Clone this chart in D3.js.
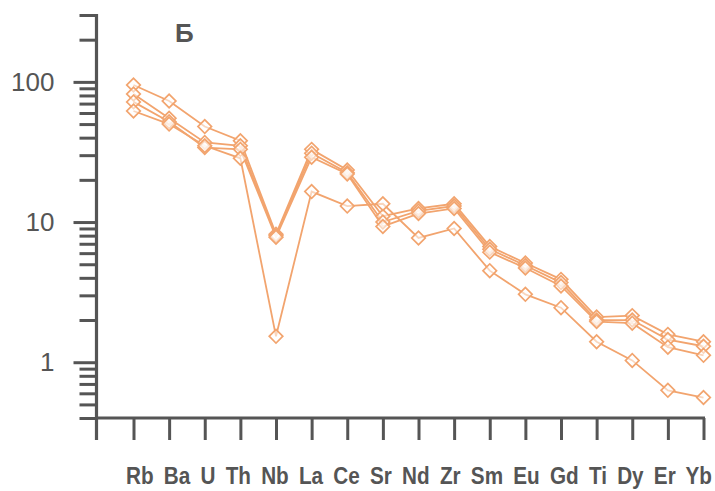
<!DOCTYPE html>
<html>
<head>
<meta charset="utf-8">
<script src="https://cdn.jsdelivr.net/npm/d3@7"></script>
<style>
  body { margin: 0; background: #fff; }
</style>
</head>
<body>
<div id="chart"></div>
<script>
// Data
//-----------
var elements = ["Rb", "Ba", "U", "Th", "Nb", "La", "Ce", "Sr", "Nd", "Zr", "Sm", "Eu", "Gd", "Ti", "Dy", "Er", "Yb"];

var sample1 = [95, 73, 48, 38, 8.2, 33, 23.5, 11, 12.5, 13.5, 6.7, 5.1, 3.9, 2.1, 2.15, 1.58, 1.4];
var sample2 = [82, 55, 37, 35, 8.0, 31, 22.5, 10, 12, 13, 6.4, 4.9, 3.7, 2.0, 2.0, 1.45, 1.3];
var sample3 = [72, 52, 34, 33, 7.8, 29, 22, 9.3, 11.5, 12.5, 6.1, 4.7, 3.5, 1.95, 1.9, 1.28, 1.12];
var sample4 = [62, 50, 35, 28.5, 1.53, 16.5, 13, 13.5, 7.7, 9, 4.5, 3.05, 2.45, 1.4, 1.03, 0.63, 0.56];

var majorTicks = [1, 10, 100];
var minorTicks = [0.4, 0.5, 0.6, 0.7, 0.8, 0.9, 2, 3, 4, 5, 6, 7, 8, 9, 20, 30, 40, 50, 60, 70, 80, 90, 200, 300];

var panelLabel = "Б";

// Attributes
//-----------
var w = 715;
var h = 491;
var axisColor = "#555";
var lineColor = "#F2A46E";

var svg = d3.select("#chart")
  .append("svg")
  .attr("width", w)
  .attr("height", h);

svg.append("rect").attr("width", w).attr("height", h).attr("fill", "#fff");

// Scales
//-----------
var xScale = d3.scalePoint().domain(elements).range([133.5, 703.5]);
var yScale = d3.scaleLog().domain([0.4, 300]).range([418, 15]);
var axisX = 96.5;

// Axes
//-----------
var minorAxis = svg.append("g")
  .attr("transform", "translate(" + axisX + ",0)")
  .call(d3.axisLeft(yScale).tickValues(minorTicks).tickSize(17).tickFormat(""));

var majorAxis = svg.append("g")
  .attr("transform", "translate(" + axisX + ",0)")
  .call(d3.axisLeft(yScale).tickValues(majorTicks).tickSize(23).tickPadding(19).tickFormat(d3.format("d")));

var bottomAxis = svg.append("g")
  .attr("transform", "translate(0," + yScale(0.4) + ")")
  .call(d3.axisBottom(xScale).tickSize(22).tickFormat(""));

svg.selectAll(".domain").remove();
svg.selectAll(".tick line")
  .attr("stroke", axisColor)
  .attr("stroke-width", 3);

majorAxis.selectAll("text")
  .attr("font-family", "Liberation Sans, Arial, sans-serif")
  .attr("font-size", "26px")
  .attr("fill", axisColor);

// y axis line, reaching down to the tick length of the x axis
svg.append("line")
  .attr("x1", axisX).attr("x2", axisX)
  .attr("y1", yScale(300) - 1)
  .attr("y2", yScale(0.4) + 22)
  .attr("stroke", axisColor)
  .attr("stroke-width", 3.2);

// x axis line
svg.append("line")
  .attr("x1", axisX)
  .attr("x2", xScale(elements[elements.length - 1]) + 1.5)
  .attr("y1", yScale(0.4)).attr("y2", yScale(0.4))
  .attr("stroke", axisColor)
  .attr("stroke-width", 3.2);

// element names, written as one line under the axis
var sx = 0.9;
var labelG = svg.append("g").attr("transform", "translate(126,484) scale(" + sx + ",1)");
var labelText = labelG.append("text")
  .text(elements.join(" "))
  .attr("font-family", "Liberation Sans, Arial, sans-serif")
  .attr("font-weight", "bold")
  .attr("font-size", "23px")
  .attr("fill", axisColor);
var natural = labelText.node().getComputedTextLength();
var gaps = elements.length - 1;
labelText.attr("word-spacing", Math.max(0, ((586 / sx) - natural) / gaps));

// panel letter
svg.append("text")
  .text(panelLabel)
  .attr("x", 175)
  .attr("y", 42)
  .attr("font-family", "Liberation Sans, Arial, sans-serif")
  .attr("font-weight", "bold")
  .attr("font-size", "26px")
  .attr("fill", axisColor);

// Lines
//-----------
var series = [sample1, sample2, sample3, sample4];

var line = d3.line()
  .x(function(d, i) { return xScale(elements[i]); })
  .y(function(d) { return yScale(d); });

svg.selectAll("path.series")
  .data(series)
  .enter()
  .append("path")
  .attr("class", "series")
  .attr("d", line)
  .attr("fill", "none")
  .attr("stroke", lineColor)
  .attr("stroke-width", 1.8);

// Markers
//-----------
var diamond = d3.symbol().type(d3.symbolSquare).size(92);

series.forEach(function(s) {
  svg.append("g").selectAll("path")
    .data(s)
    .enter()
    .append("path")
    .attr("d", diamond)
    .attr("transform", function(d, i) {
      return "translate(" + xScale(elements[i]) + "," + yScale(d) + ") rotate(45)";
    })
    .attr("fill", "#fff")
    .attr("fill-opacity", 0.55)
    .attr("stroke", lineColor)
    .attr("stroke-width", 1.7);
});
</script>
</body>
</html>
